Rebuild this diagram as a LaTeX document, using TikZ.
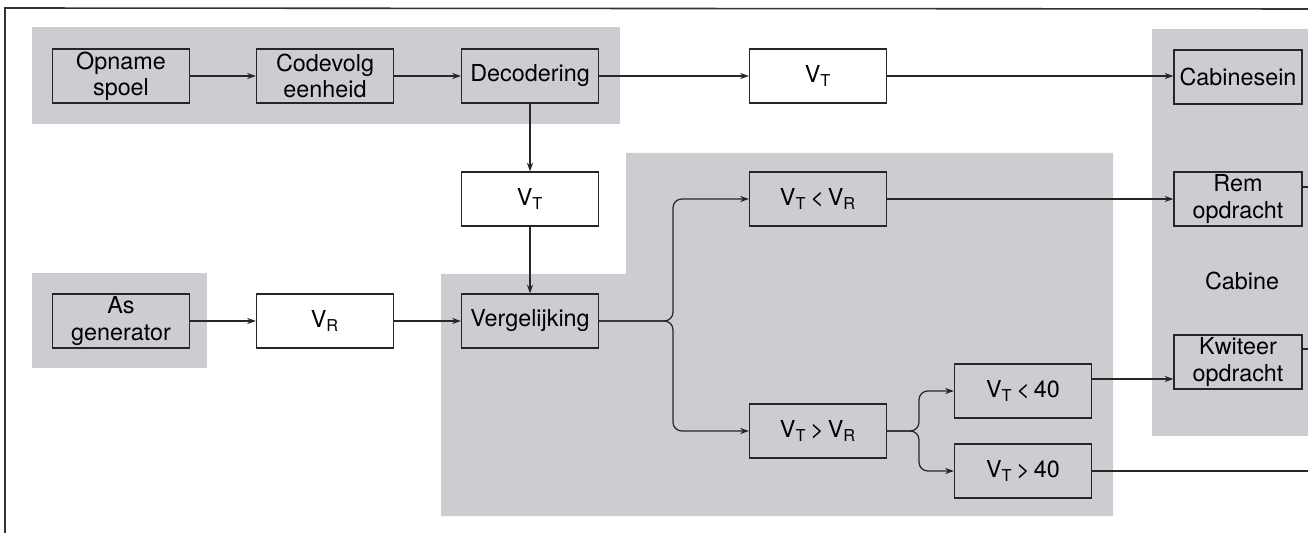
\documentclass[tikz,border=0pt]{standalone}
\usepackage{fontspec}
\setmainfont{TeX Gyre Heros}
\usetikzlibrary{arrows.meta}
\definecolor{bandgrey}{RGB}{203,205,208}
\newcommand{\Vs}[1]{V\textsubscript{#1}}
\tikzset{
  blok/.style={draw=black!85, line width=0.7pt, minimum width=2.74cm, minimum height=1.08cm, align=center, inner sep=1pt},
  witblok/.style={blok, fill=white},
  cabblok/.style={blok, minimum width=2.56cm},
  lijn/.style={line width=0.7pt, draw=black!85},
}

\begin{document}
\begin{tikzpicture}[x=0.02cm, y=-0.02cm, >={Stealth[length=5pt,width=3.5pt]}, font=\fontsize{13.3}{15}\selectfont]
  \useasboundingbox (0,0) rectangle (1308,533);
  \fill[white] (0,0) rectangle (1308,533);

  % Grey areas
  \fill[bandgrey] (32,27) rectangle (620,124);
  \fill[bandgrey] (32,273) rectangle (207,368);
  \fill[bandgrey] (626,153) -- (1113,153) -- (1113,516) -- (441,516) -- (441,274) -- (626,274) -- cycle;
  \fill[bandgrey] (1152,29) rectangle (1308,436);

  % Frame
  \draw[line width=0.9pt, black!80] (5,533) -- (5,8) -- (1308,9);

  % Blocks
  \node[blok] (opname) at (121,76) {Opname\\spoel};
  \node[blok] (codevolg) at (325,76) {Codevolg\\eenheid};
  \node[blok] (decod) at (530,76) {Decodering};
  \node[witblok] (vtop) at (818,76) {\Vs{T}};
  \node[cabblok] (cabsein) at (1238,77) {Cabinesein};

  \node[witblok] (vtmid) at (530,199) {\Vs{T}};
  \node[blok] (vtlt) at (818,199) {\Vs{T}\,<\,\Vs{R}};
  \node[cabblok] (rem) at (1238,199) {Rem\\opdracht};

  \node[blok] (asgen) at (121,321) {As\\generator};
  \node[witblok] (vr) at (325,321) {\Vs{R}};
  \node[blok] (verg) at (530,321) {Vergelijking};

  \node (cabine) at (1242,281) {Cabine};
  \node[cabblok] (kwit) at (1238,362) {Kwiteer\\opdracht};
  \node[blok] (lt40) at (1023,391) {\Vs{T}\,<\,40};
  \node[blok] (vtgt) at (818,431) {\Vs{T}\,>\,\Vs{R}};
  \node[blok] (gt40) at (1023,471) {\Vs{T}\,>\,40};

  % Connections
  \draw[lijn,->] (opname) -- (codevolg);
  \draw[lijn,->] (codevolg) -- (decod);
  \draw[lijn,->] (decod) -- (vtop);
  \draw[lijn,->] (vtop) -- (vtop.east -| cabsein.west);
  \draw[lijn,->] (decod) -- (vtmid);
  \draw[lijn,->] (vtmid) -- (verg);
  \draw[lijn,->] (asgen) -- (vr);
  \draw[lijn,->] (vr) -- (verg);
  \draw[lijn,->] (vtlt) -- (rem);

  % Forks
  \draw[lijn,->,rounded corners=5pt] (verg.east) -- (673,321) |- (vtlt.west);
  \draw[lijn,->,rounded corners=5pt] (verg.east) -- (673,321) |- (vtgt.west);
  \draw[lijn,->,rounded corners=5pt] (vtgt.east) -- (919,431) |- (lt40.west);
  \draw[lijn,->,rounded corners=5pt] (vtgt.east) -- (919,431) |- (gt40.west);

  \coordinate (kwitin) at (1174,379);
  \draw[lijn,->] (lt40.east |- kwitin) -- (kwit.west |- kwitin);

  % Outgoing lines
  \coordinate (remuit) at (1308,187);
  \coordinate (kwituit) at (1308,349);
  \coordinate (gt40uit) at (1308,471);
  \draw[lijn] (rem.east |- remuit) -- (remuit);
  \draw[lijn] (kwit.east |- kwituit) -- (kwituit);
  \draw[lijn] (gt40.east) -- (gt40uit);
\end{tikzpicture}
\end{document}
